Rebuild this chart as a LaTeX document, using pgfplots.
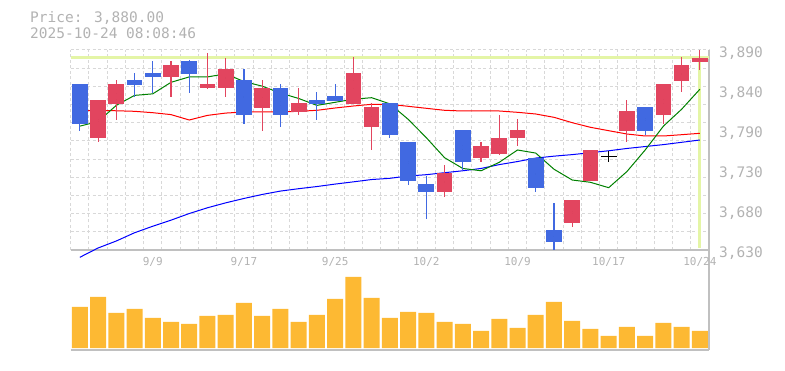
\documentclass[border=0pt]{standalone}
\usepackage{fontspec}
\setmainfont{DejaVu Sans Mono}
\usepackage{pgfplots}
\usepackage{pgfplotstable}
\pgfplotsset{compat=1.18}
\definecolor{upc}{RGB}{226,69,95}
\definecolor{dnc}{RGB}{65,105,225}
\definecolor{volc}{RGB}{253,185,51}
\definecolor{gridc}{RGB}{216,216,216}
\definecolor{axc}{RGB}{192,192,192}
\definecolor{txtc}{RGB}{178,178,178}
\definecolor{hlc}{RGB}{228,245,166}
\definecolor{magreen}{RGB}{0,128,0}

% up candles (red)
\pgfplotstableread{
x o h l c
1 3775 3825 3770 3825
2 3820 3851 3799 3846
5 3855 3876 3829 3870
7 3840 3886 3839 3846
8 3840 3880 3829 3865
10 3815 3851 3785 3841
12 3810 3841 3805 3821
15 3820 3881 3820 3860
16 3790 3821 3760 3816
20 3705 3740 3699 3730
22 3750 3771 3745 3765
23 3755 3805 3753 3776
24 3775 3800 3765 3786
27 3665 3695 3660 3695
28 3720 3760 3720 3760
30 3785 3825 3770 3811
32 3805 3846 3794 3846
33 3850 3881 3835 3870
34 3875 3890 3864 3880
}\upT
% down candles (blue)
\pgfplotstableread{
x o h l c
0 3846 3846 3785 3794
3 3851 3860 3829 3845
4 3860 3876 3834 3855
6 3876 3877 3834 3859
9 3851 3865 3794 3805
11 3841 3846 3790 3805
13 3825 3835 3799 3820
14 3830 3846 3824 3824
17 3821 3821 3775 3780
18 3771 3771 3715 3720
19 3716 3726 3670 3705
21 3786 3786 3734 3745
25 3750 3750 3705 3710
26 3656 3691 3630 3640
31 3816 3816 3780 3785
}\dnT
% moving averages
\pgfplotstableread{
x g r b
0 3791 3811 3620.5
1 3797 3811.5 3632.6
2 3818 3811 3641.7
3 3831 3810.3 3652.4
4 3833 3808.5 3660.9
5 3848 3806 3668.8
6 3855 3799 3677.4
7 3855 3805 3684.9
8 3859 3808 3691.3
9 3849 3809.4 3697
10 3843 3809.4 3702.2
11 3834 3809.4 3706.6
12 3827 3810.3 3709.7
13 3818 3811.6 3712.5
14 3822 3814.6 3715.7
15 3826 3817.2 3718.6
16 3828 3819.4 3721.6
17 3820 3819.4 3723.2
18 3800 3816.8 3726.2
19 3776 3814.2 3727.9
20 3750 3811.6 3730.5
21 3736 3810.7 3733
22 3733 3810.7 3736
23 3744 3810.7 3741
24 3760 3809 3745
25 3756 3806.8 3749.5
26 3735 3802.5 3752
27 3721 3795.5 3754
28 3718 3789.5 3756.5
29 3711 3785.1 3759
30 3732 3780.8 3762
31 3760 3778.2 3764.5
32 3791 3778.2 3767
33 3813 3779.9 3770
34 3839 3781.7 3773
}\maT
% volume
\pgfplotstableread{
x v
0 41
1 51
2 35
3 39
4 30
5 26
6 24
7 32
8 33
9 45
10 32
11 39
12 26
13 33
14 49
15 71
16 50
17 30
18 36
19 35
20 26
21 24
22 17
23 29
24 20
25 33
26 46
27 27
28 19
29 12
30 21
31 12
32 25
33 21
34 17
}\volT

\pgfplotsset{
  chartbase/.style={
    scale only axis,
    width=638.3pt,
    xmin=-0.5, xmax=34.5,
    axis x line*=bottom,
    axis y line*=right,
    axis line style={axc, line width=1.5pt, -},
    major tick length=0pt, minor tick length=0pt,
    minor xtick={-0.5,0.5,...,34.5},
    xminorgrids=true,
    minor grid style={gridc, dash pattern=on 3pt off 2.5pt, line width=1pt},
    clip=false,
  },
  candle/.style={only marks, mark=*, mark size=0pt, mark options={draw=none, fill=none}},
}

\begin{document}
\begin{tikzpicture}
\path[use as bounding box] (0,0) rectangle (785pt,370pt);

% volume panel
\begin{axis}[chartbase,
  at={(70.7pt,20pt)}, anchor=south west,
  height=100pt, ymin=-2, ymax=98,
  xtick=\empty, ytick=\empty,
]
\addplot[ybar, bar width=16pt, fill=volc, draw=none] table[x=x,y=v]{\volT};
\end{axis}

% price panel
\begin{axis}[chartbase,
  at={(70.7pt,120pt)}, anchor=south west,
  height=200pt, ymin=3630, ymax=3890,
  xtick={4,9,14,19,24,29,34},
  xticklabels={9/9,9/17,9/25,10/2,10/9,10/17,10/24},
  xticklabel pos=bottom,
  xticklabel style={anchor=center, inner sep=0pt, yshift=-12pt, text=txtc, font=\fontsize{11}{11}\selectfont},
  ytick={3630,3682,3734,3786,3838,3890},
  yticklabels={{3,630},{3,680},{3,730},{3,790},{3,840},{3,890}},
  yticklabel pos=right,
  yticklabel style={anchor=west, inner sep=0pt, xshift=10pt, yshift=-3pt, text=txtc, font=\fontsize{14.5}{14.5}\selectfont},
  minor ytick={3630,3653.636,3677.273,3700.909,3724.545,3748.182,3771.818,3795.455,3819.091,3842.727,3866.364,3890},
  yminorgrids=true,
]
% current price highlight
\addplot[hlc, line width=3pt] coordinates {(-0.5,3880) (34.5,3880)};
\addplot[hlc, line width=3pt] coordinates {(34,3880) (34,3632)};
% moving averages
\addplot[blue, line width=1pt] table[x=x,y=b]{\maT};
\addplot[red, line width=1pt] table[x=x,y=r]{\maT};
\addplot[magreen, line width=1pt] table[x=x,y=g]{\maT};
% up candles
\addplot[candle, error bars/.cd, y dir=both, y explicit, error mark=none,
  error bar style={line width=1.1pt, upc}]
  table[x=x, y expr={(\thisrow{h}+\thisrow{l})/2}, y error expr={(\thisrow{h}-\thisrow{l})/2}]{\upT};
\addplot[candle, error bars/.cd, y dir=both, y explicit, error mark=none,
  error bar style={line width=15.7pt, upc}]
  table[x=x, y expr={(\thisrow{o}+\thisrow{c})/2}, y error expr={abs(\thisrow{c}-\thisrow{o})/2}]{\upT};
% down candles
\addplot[candle, error bars/.cd, y dir=both, y explicit, error mark=none,
  error bar style={line width=1.1pt, dnc}]
  table[x=x, y expr={(\thisrow{h}+\thisrow{l})/2}, y error expr={(\thisrow{h}-\thisrow{l})/2}]{\dnT};
\addplot[candle, error bars/.cd, y dir=both, y explicit, error mark=none,
  error bar style={line width=15.7pt, dnc}]
  table[x=x, y expr={(\thisrow{o}+\thisrow{c})/2}, y error expr={abs(\thisrow{c}-\thisrow{o})/2}]{\dnT};
% doji candle
\addplot[candle, error bars/.cd, y dir=both, y explicit, error mark=none,
  error bar style={line width=1.1pt, black}]
  coordinates {(29,3752) +- (0,7)};
\addplot[candle, error bars/.cd, x dir=both, x explicit, error mark=none,
  error bar style={line width=1.1pt, black}]
  coordinates {(29,3751) +- (0.43,0)};
\end{axis}

\node[anchor=base west, inner sep=0pt, text=txtc, font=\fontsize{14.5}{14.5}\selectfont] at (30pt,347.3pt) {Price: 3,880.00};
\node[anchor=base west, inner sep=0pt, text=txtc, font=\fontsize{14.5}{14.5}\selectfont] at (30pt,331.7pt) {2025-10-24 08:08:46};
\end{tikzpicture}
\end{document}
